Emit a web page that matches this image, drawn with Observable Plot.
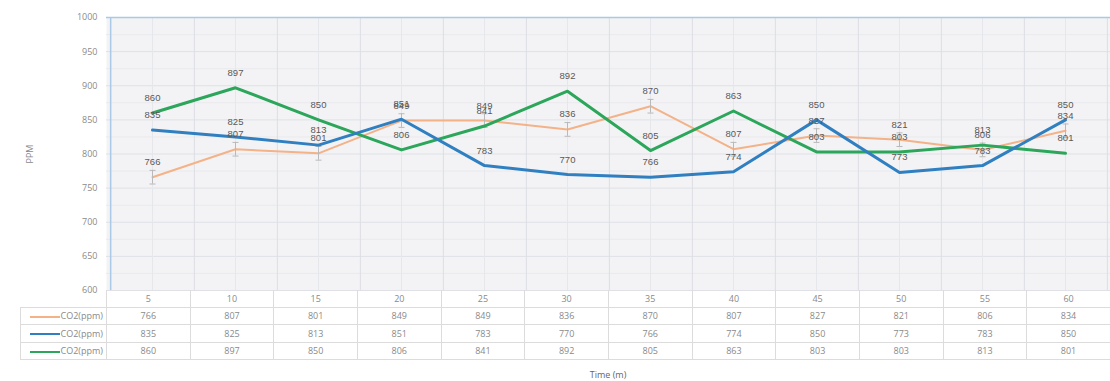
<!DOCTYPE html>
<html>
<head>
<meta charset="utf-8">
<script src="https://cdn.jsdelivr.net/npm/d3@7"></script>
<script src="https://cdn.jsdelivr.net/npm/@observablehq/plot@0.6"></script>
<style>
  body { margin: 0; background: #fff; font-family: "Open Sans", "Liberation Sans", sans-serif; }
  #wrap { position: relative; width: 1110px; height: 381px; overflow: hidden; }
  #chart { position: absolute; left: 0; top: 0; }
  #tbl { position: absolute; left: 20px; top: 290px; border-collapse: collapse; table-layout: fixed; font-size: 9px; color: #8a8a8a; }
  #tbl td { height: 16.5px; padding: 0; text-align: center; border: 1px solid #dcdcdc; white-space: nowrap; }
  #tbl td.lg { text-align: right; padding-right: 3px; }
  #tbl td.blank { border: none; }
  .sw { display: inline-block; width: 30px; height: 0; border-top: 2px solid; vertical-align: middle; margin-right: 1px; }
  #xlabel { position: absolute; left: 0; width: 1216px; top: 368px; text-align: center; font-size: 9px; color: #666; }
</style>
</head>
<body>
<div id="wrap">
  <div id="chart"></div>
  <table id="tbl"></table>
  <div id="xlabel"></div>
</div>
<script>
const times = [5, 10, 15, 20, 25, 30, 35, 40, 45, 50, 55, 60];
const seriesNames = ["CO2(ppm)", "CO2(ppm)", "CO2(ppm)"];
const orangeValues = [766, 807, 801, 849, 849, 836, 870, 807, 827, 821, 806, 834];
const blueValues = [835, 825, 813, 851, 783, 770, 766, 774, 850, 773, 783, 850];
const greenValues = [860, 897, 850, 806, 841, 892, 805, 863, 803, 803, 813, 801];
const orangeError = 10;
const yTicks = [600, 650, 700, 750, 800, 850, 900, 950, 1000];
const xLabel = "Time (m)";
const yLabel = "PPM";

const colors = ["#f3b287", "#2f7fc1", "#2ba65a"];
const allValues = [orangeValues, blueValues, greenValues];

const W = 1110, mL = 106, mR = 0, mT = 17, plotBottom = 290;
const step = (W - mL - mR) / times.length;

const mk = (vals) => times.map((t, i) => ({t, v: vals[i]}));
const orange = mk(orangeValues), blue = mk(blueValues), green = mk(greenValues);

const capSymbol = {
  draw(ctx, size) {
    const r = 3;
    ctx.moveTo(-r, 0); ctx.lineTo(r, 0);
  }
};

const labelFill = "#595959";
const textStyle = {fontSize: 9.5, fill: labelFill, dy: -15, fontFamily: "Liberation Sans, sans-serif"};

const chart = Plot.plot({
  width: W,
  height: 300,
  marginLeft: mL,
  marginRight: mR,
  marginTop: mT,
  marginBottom: 300 - plotBottom,
  style: {fontFamily: "Open Sans, Liberation Sans, sans-serif", fontSize: "9px", color: "#8a8a8a", background: "transparent"},
  x: {type: "point", domain: times, padding: 0.5, axis: null},
  y: {domain: [600, 1000], ticks: yTicks, tickFormat: d => String(d), tickSize: 0, tickPadding: 9, label: yLabel, labelAnchor: "center", labelOffset: 80, labelArrow: "none"},
  marks: [
    Plot.frame({fill: "#f3f3f5", stroke: null}),
    Plot.ruleY(yTicks.map(d => d + 25).filter(d => d < 1000), {stroke: "#e9eaee", strokeWidth: 1}),
    Plot.ruleY(yTicks, {stroke: "#dfe1e6", strokeWidth: 1}),
    Plot.ruleX(times, {x: d => d, stroke: "#e6e7eb", strokeWidth: 1}),
    Plot.ruleX(times, {x: d => d, dx: step / 2, stroke: "#dcdee3", strokeWidth: 1}),
    Plot.ruleY([1000], {stroke: "#a9c9e6", strokeWidth: 1.5}),
    Plot.ruleX([times[0]], {x: d => d, dx: -step / 2, y1: 600, y2: 1000, stroke: "#a9c9e6", strokeWidth: 1.5}),
    Plot.line(orange, {x: "t", y: "v", stroke: colors[0], strokeWidth: 2}),
    Plot.ruleX(orange, {x: "t", y1: d => d.v - orangeError, y2: d => d.v + orangeError, stroke: "#b9b9b9", strokeWidth: 1}),
    Plot.dot(orange, {x: "t", y: d => d.v + orangeError, symbol: capSymbol, stroke: "#b9b9b9", strokeWidth: 1, r: 3}),
    Plot.dot(orange, {x: "t", y: d => d.v - orangeError, symbol: capSymbol, stroke: "#b9b9b9", strokeWidth: 1, r: 3}),
    Plot.line(green, {x: "t", y: "v", stroke: colors[2], strokeWidth: 3}),
    Plot.line(blue, {x: "t", y: "v", stroke: colors[1], strokeWidth: 3}),
    Plot.text(orange, {x: "t", y: "v", text: "v", ...textStyle}),
    Plot.text(blue, {x: "t", y: "v", text: "v", ...textStyle}),
    Plot.text(green, {x: "t", y: "v", text: "v", ...textStyle})
  ]
});
document.getElementById("chart").appendChild(chart);

// data table under the chart
const tbl = document.getElementById("tbl");
const cg = document.createElement("colgroup");
const c0 = document.createElement("col"); c0.style.width = (mL - 20) + "px"; cg.appendChild(c0);
times.forEach(() => { const c = document.createElement("col"); c.style.width = step + "px"; cg.appendChild(c); });
tbl.appendChild(cg);
tbl.style.width = (W - 20) + "px";
const hr = document.createElement("tr");
const hb = document.createElement("td"); hb.className = "blank"; hr.appendChild(hb);
times.forEach(t => { const td = document.createElement("td"); td.textContent = t; td.style.borderTop = "none"; hr.appendChild(td); });
tbl.appendChild(hr);
allValues.forEach((vals, si) => {
  const tr = document.createElement("tr");
  const lg = document.createElement("td"); lg.className = "lg";
  lg.innerHTML = `<span class="sw" style="border-color:${colors[si]}"></span>${seriesNames[si]}`;
  tr.appendChild(lg);
  vals.forEach(v => { const td = document.createElement("td"); td.textContent = v; tr.appendChild(td); });
  tbl.appendChild(tr);
});
document.getElementById("xlabel").textContent = xLabel;
</script>
</body>
</html>
